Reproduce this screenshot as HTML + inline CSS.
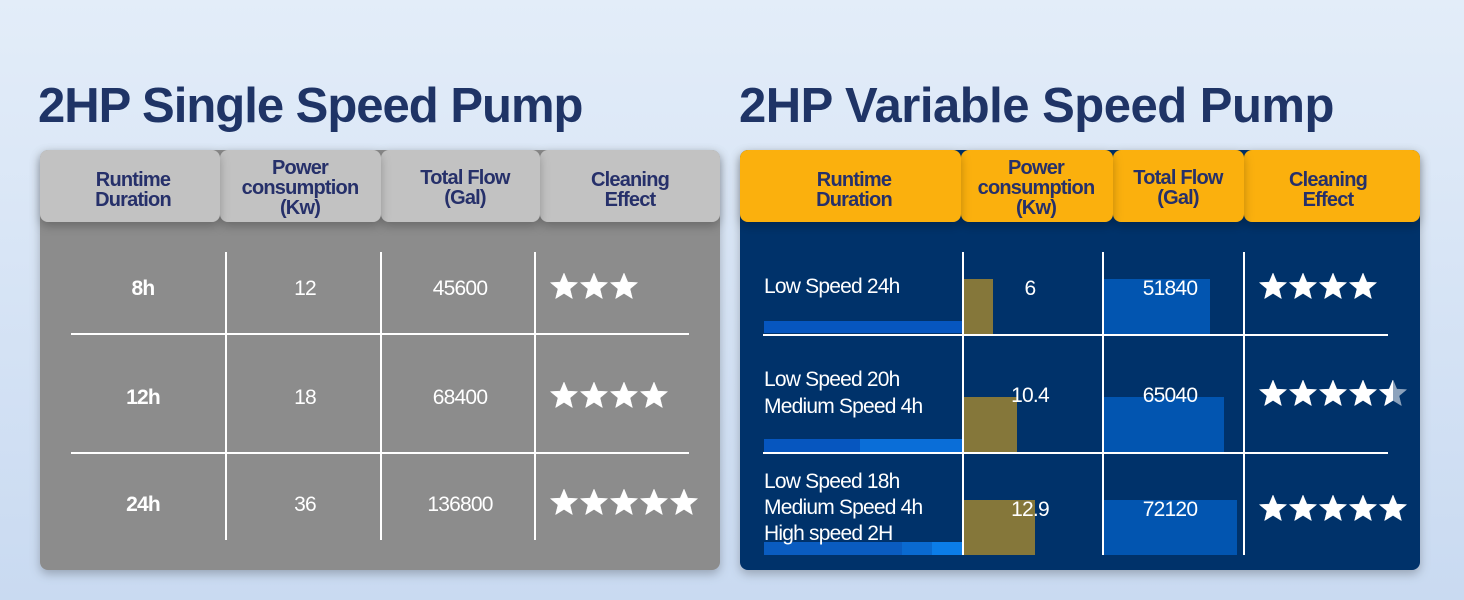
<!DOCTYPE html>
<html><head><meta charset="utf-8"><style>
html,body{margin:0;padding:0;width:1464px;height:600px;overflow:hidden}
body{background:linear-gradient(#e3edf9,#c9daf1)}
svg{display:block}
text{font-family:"Liberation Sans",sans-serif}
.t{font-size:49px;font-weight:bold;fill:#1f3466;letter-spacing:-1px}
.h{font-size:20px;font-weight:bold;fill:#26306a;letter-spacing:-0.8px}
.w{font-size:21px;fill:#fff;letter-spacing:-0.8px}
.wb{font-size:21px;font-weight:bold;fill:#fff;letter-spacing:-0.8px}
</style></head><body>
<svg width="1464" height="600" viewBox="0 0 1464 600">
<defs>
<polygon id="s" points="0,-14 3.8,-4.9 13.6,-4.4 6,1.9 8.4,11.6 0,6.4 -8.4,11.6 -6,1.9 -13.6,-4.4 -3.8,-4.9" fill="#fff" stroke="#fff" stroke-width="0.5" stroke-linejoin="round"/>
<clipPath id="half"><rect x="-16" y="-16" width="16" height="32"/></clipPath>
<filter id="sh" x="-10%" y="-10%" width="120%" height="130%"><feDropShadow dx="0" dy="4" stdDeviation="5" flood-color="#000" flood-opacity="0.25"/></filter>
</defs>
<text class="t" x="38" y="122">2HP Single Speed Pump</text>
<text class="t" x="739" y="122" style="letter-spacing:-0.5px">2HP Variable Speed Pump</text>

<rect x="40" y="150" width="680" height="420" rx="8" fill="#8c8c8c" filter="url(#sh)"/>
<rect x="540" y="150" width="180" height="72" rx="8" fill="#c2c2c2" filter="url(#sh)"/>
<rect x="381" y="150" width="159" height="72" rx="8" fill="#c2c2c2" filter="url(#sh)"/>
<rect x="220" y="150" width="161" height="72" rx="8" fill="#c2c2c2" filter="url(#sh)"/>
<rect x="40" y="150" width="180" height="72" rx="8" fill="#c2c2c2" filter="url(#sh)"/>
<text class="h" text-anchor="middle"><tspan x="133" y="186">Runtime</tspan><tspan x="133" y="206">Duration</tspan></text>
<text class="h" text-anchor="middle"><tspan x="300" y="174">Power</tspan><tspan x="300" y="194">consumption</tspan><tspan x="300" y="214">(Kw)</tspan></text>
<text class="h" text-anchor="middle"><tspan x="465" y="184">Total Flow</tspan><tspan x="465" y="204">(Gal)</tspan></text>
<text class="h" text-anchor="middle"><tspan x="630" y="186">Cleaning</tspan><tspan x="630" y="206">Effect</tspan></text>
<g stroke="#fff" stroke-width="2">
<line x1="226" y1="252" x2="226" y2="540"/><line x1="381" y1="252" x2="381" y2="540"/><line x1="535" y1="252" x2="535" y2="540"/>
<line x1="71" y1="334" x2="689" y2="334"/><line x1="71" y1="453" x2="689" y2="453"/>
</g>
<g text-anchor="middle">
<text class="wb" x="143" y="295">8h</text><text class="w" x="305" y="295">12</text><text class="w" x="460" y="295">45600</text>
<text class="wb" x="143" y="404">12h</text><text class="w" x="305" y="404">18</text><text class="w" x="460" y="404">68400</text>
<text class="wb" x="143" y="511">24h</text><text class="w" x="305" y="511">36</text><text class="w" x="460" y="511">136800</text>
</g>
<use href="#s" x="564" y="287"/><use href="#s" x="594" y="287"/><use href="#s" x="624" y="287"/>
<use href="#s" x="564" y="396"/><use href="#s" x="594" y="396"/><use href="#s" x="624" y="396"/><use href="#s" x="654" y="396"/>
<use href="#s" x="564" y="503"/><use href="#s" x="594" y="503"/><use href="#s" x="624" y="503"/><use href="#s" x="654" y="503"/><use href="#s" x="684" y="503"/>

<rect x="740" y="150" width="680" height="420" rx="8" fill="#05316a" filter="url(#sh)"/>
<rect x="1244" y="150" width="176" height="72" rx="8" fill="#fbb00e" filter="url(#sh)"/>
<rect x="1113" y="150" width="131" height="72" rx="8" fill="#fbb00e" filter="url(#sh)"/>
<rect x="961" y="150" width="152" height="72" rx="8" fill="#fbb00e" filter="url(#sh)"/>
<rect x="740" y="150" width="221" height="72" rx="8" fill="#fbb00e" filter="url(#sh)"/>
<text class="h" text-anchor="middle"><tspan x="854" y="186">Runtime</tspan><tspan x="854" y="206">Duration</tspan></text>
<text class="h" text-anchor="middle"><tspan x="1036" y="174">Power</tspan><tspan x="1036" y="194">consumption</tspan><tspan x="1036" y="214">(Kw)</tspan></text>
<text class="h" text-anchor="middle"><tspan x="1178" y="184">Total Flow</tspan><tspan x="1178" y="204">(Gal)</tspan></text>
<text class="h" text-anchor="middle"><tspan x="1328" y="186">Cleaning</tspan><tspan x="1328" y="206">Effect</tspan></text>
<rect x="963" y="279" width="30" height="55" fill="#85773a"/>
<rect x="963" y="397" width="54" height="56" fill="#85773a"/>
<rect x="963" y="500" width="72" height="55" fill="#85773a"/>
<rect x="1104" y="279" width="106" height="55" fill="#0255b0"/>
<rect x="1104" y="397" width="120" height="56" fill="#0255b0"/>
<rect x="1104" y="500" width="133" height="55" fill="#0255b0"/>
<rect x="764" y="321" width="199" height="12" fill="#0656bf"/>
<rect x="764" y="439" width="96" height="13" fill="#0656bf"/><rect x="860" y="439" width="103" height="13" fill="#0a6ed8"/>
<rect x="764" y="542" width="138" height="13" fill="#0a5cc0"/><rect x="902" y="542" width="30" height="13" fill="#0a6ad0"/><rect x="932" y="542" width="31" height="13" fill="#0b7de8"/>
<g stroke="#fff" stroke-width="2">
<line x1="963" y1="252" x2="963" y2="555"/><line x1="1103" y1="252" x2="1103" y2="555"/><line x1="1244" y1="252" x2="1244" y2="555"/>
<line x1="763" y1="335" x2="1388" y2="335"/><line x1="763" y1="453" x2="1388" y2="453"/>
</g>
<text class="w" x="764" y="293">Low Speed 24h</text>
<text class="w" x="764" y="386">Low Speed 20h</text><text class="w" x="764" y="413">Medium Speed 4h</text>
<text class="w" x="764" y="488">Low Speed 18h</text><text class="w" x="764" y="514">Medium Speed 4h</text><text class="w" x="764" y="540">High speed 2H</text>
<g text-anchor="middle">
<text class="w" x="1030" y="295">6</text><text class="w" x="1030" y="402">10.4</text><text class="w" x="1030" y="516">12.9</text>
<text class="w" x="1170" y="295">51840</text><text class="w" x="1170" y="402">65040</text><text class="w" x="1170" y="516">72120</text>
</g>
<use href="#s" x="1273" y="287"/><use href="#s" x="1303" y="287"/><use href="#s" x="1333" y="287"/><use href="#s" x="1363" y="287"/>
<use href="#s" x="1273" y="394"/><use href="#s" x="1303" y="394"/><use href="#s" x="1333" y="394"/><use href="#s" x="1363" y="394"/>
<g transform="translate(1393,394)"><use href="#s" opacity="0.55"/><use href="#s" clip-path="url(#half)"/></g>
<use href="#s" x="1273" y="509"/><use href="#s" x="1303" y="509"/><use href="#s" x="1333" y="509"/><use href="#s" x="1363" y="509"/><use href="#s" x="1393" y="509"/>
</svg>
</body></html>
